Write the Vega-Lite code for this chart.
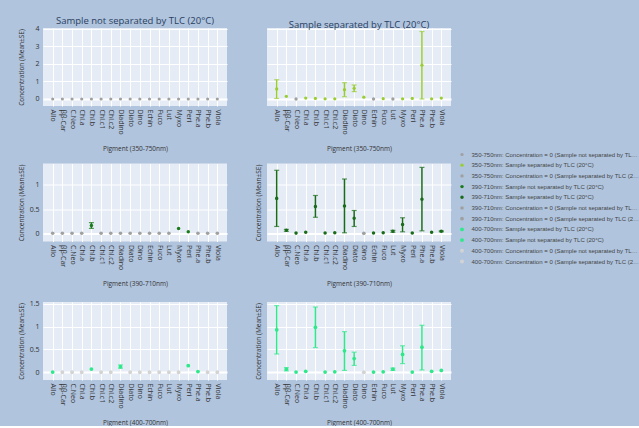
{
"$schema": "https://vega.github.io/schema/vega-lite/v6.json",
"background": "#b0c4de",
"padding": {"left": 17, "top": 16, "right": 0, "bottom": 0},
"spacing": 11.5,
"config": {
 "font": "Open Sans",
 "view": {"fill": "#e5ecf6", "stroke": null},
 "axis": {"domain": false, "ticks": false, "gridColor": "#ffffff", "gridOpacity": 1, "labelColor": "#333333", "labelFontSize": 7, "titleColor": "#333333", "titleFontSize": 6.5, "titleFontWeight": "normal"},
 "axisX": {"labelAngle": 90, "labelPadding": 3, "titleY": 42, "titleBaseline": "middle", "grid": true},
 "axisY": {"labelPadding": 4, "titleX": -22, "titleY": 39, "titleBaseline": "middle", "titleAlign": "center", "titleAngle": -90},
 "title": {"fontSize": 9.5, "color": "#2a3f5f", "fontWeight": "normal", "offset": -1, "font": "Open Sans"}
},
"datasets": {
 "p1": [
  {"p":"Allo","m":0,"g":"350-750nm: Concentration = 0 (Sample not separated by TLC (20°C))"},
  {"p":"ββ-Car","m":0,"g":"350-750nm: Concentration = 0 (Sample not separated by TLC (20°C))"},
  {"p":"C.Neo","m":0,"g":"350-750nm: Concentration = 0 (Sample not separated by TLC (20°C))"},
  {"p":"Chl.a","m":0,"g":"350-750nm: Concentration = 0 (Sample not separated by TLC (20°C))"},
  {"p":"Chl.b","m":0,"g":"350-750nm: Concentration = 0 (Sample not separated by TLC (20°C))"},
  {"p":"Chl.c1","m":0,"g":"350-750nm: Concentration = 0 (Sample not separated by TLC (20°C))"},
  {"p":"Chl.c2","m":0,"g":"350-750nm: Concentration = 0 (Sample not separated by TLC (20°C))"},
  {"p":"Diadino","m":0,"g":"350-750nm: Concentration = 0 (Sample not separated by TLC (20°C))"},
  {"p":"Diato","m":0,"g":"350-750nm: Concentration = 0 (Sample not separated by TLC (20°C))"},
  {"p":"Dino","m":0,"g":"350-750nm: Concentration = 0 (Sample not separated by TLC (20°C))"},
  {"p":"Echin","m":0,"g":"350-750nm: Concentration = 0 (Sample not separated by TLC (20°C))"},
  {"p":"Fuco","m":0,"g":"350-750nm: Concentration = 0 (Sample not separated by TLC (20°C))"},
  {"p":"Lut","m":0,"g":"350-750nm: Concentration = 0 (Sample not separated by TLC (20°C))"},
  {"p":"Myxo","m":0,"g":"350-750nm: Concentration = 0 (Sample not separated by TLC (20°C))"},
  {"p":"Peri","m":0,"g":"350-750nm: Concentration = 0 (Sample not separated by TLC (20°C))"},
  {"p":"Phe.a","m":0,"g":"350-750nm: Concentration = 0 (Sample not separated by TLC (20°C))"},
  {"p":"Phe.b","m":0,"g":"350-750nm: Concentration = 0 (Sample not separated by TLC (20°C))"},
  {"p":"Viola","m":0,"g":"350-750nm: Concentration = 0 (Sample not separated by TLC (20°C))"}
 ],
 "p2": [
  {"p":"Allo","m":0.57,"lo":0.03,"hi":1.1,"g":"350-750nm: Sample separated by TLC (20°C)"},
  {"p":"ββ-Car","m":0.15,"g":"350-750nm: Sample separated by TLC (20°C)"},
  {"p":"C.Neo","m":0,"g":"350-750nm: Concentration = 0 (Sample separated by TLC (20°C))"},
  {"p":"Chl.a","m":0.05,"g":"350-750nm: Sample separated by TLC (20°C)"},
  {"p":"Chl.b","m":0.03,"g":"350-750nm: Sample separated by TLC (20°C)"},
  {"p":"Chl.c1","m":0.01,"g":"350-750nm: Sample separated by TLC (20°C)"},
  {"p":"Chl.c2","m":0.01,"g":"350-750nm: Sample separated by TLC (20°C)"},
  {"p":"Diadino","m":0.53,"lo":0.13,"hi":0.93,"g":"350-750nm: Sample separated by TLC (20°C)"},
  {"p":"Diato","m":0.61,"lo":0.42,"hi":0.8,"g":"350-750nm: Sample separated by TLC (20°C)"},
  {"p":"Dino","m":0.1,"g":"350-750nm: Sample separated by TLC (20°C)"},
  {"p":"Echin","m":0,"g":"350-750nm: Concentration = 0 (Sample separated by TLC (20°C))"},
  {"p":"Fuco","m":0.02,"g":"350-750nm: Sample separated by TLC (20°C)"},
  {"p":"Lut","m":0,"g":"350-750nm: Concentration = 0 (Sample separated by TLC (20°C))"},
  {"p":"Myxo","m":0.01,"g":"350-750nm: Sample separated by TLC (20°C)"},
  {"p":"Peri","m":0.03,"g":"350-750nm: Sample separated by TLC (20°C)"},
  {"p":"Phe.a","m":1.93,"lo":0,"hi":3.85,"g":"350-750nm: Sample separated by TLC (20°C)"},
  {"p":"Phe.b","m":0.01,"g":"350-750nm: Sample separated by TLC (20°C)"},
  {"p":"Viola","m":0.05,"g":"350-750nm: Sample separated by TLC (20°C)"}
 ],
 "p3": [
  {"p":"Allo","m":0,"g":"390-710nm: Concentration = 0 (Sample not separated by TLC (20°C))"},
  {"p":"ββ-Car","m":0,"g":"390-710nm: Concentration = 0 (Sample not separated by TLC (20°C))"},
  {"p":"C.Neo","m":0,"g":"390-710nm: Concentration = 0 (Sample not separated by TLC (20°C))"},
  {"p":"Chl.a","m":0,"g":"390-710nm: Concentration = 0 (Sample not separated by TLC (20°C))"},
  {"p":"Chl.b","m":0.16,"lo":0.1,"hi":0.22,"g":"390-710nm: Sample not separated by TLC (20°C)"},
  {"p":"Chl.c1","m":0,"g":"390-710nm: Concentration = 0 (Sample not separated by TLC (20°C))"},
  {"p":"Chl.c2","m":0,"g":"390-710nm: Concentration = 0 (Sample not separated by TLC (20°C))"},
  {"p":"Diadino","m":0,"g":"390-710nm: Concentration = 0 (Sample not separated by TLC (20°C))"},
  {"p":"Diato","m":0,"g":"390-710nm: Concentration = 0 (Sample not separated by TLC (20°C))"},
  {"p":"Dino","m":0,"g":"390-710nm: Concentration = 0 (Sample not separated by TLC (20°C))"},
  {"p":"Echin","m":0,"g":"390-710nm: Concentration = 0 (Sample not separated by TLC (20°C))"},
  {"p":"Fuco","m":0,"g":"390-710nm: Concentration = 0 (Sample not separated by TLC (20°C))"},
  {"p":"Lut","m":0,"g":"390-710nm: Concentration = 0 (Sample not separated by TLC (20°C))"},
  {"p":"Myxo","m":0.1,"g":"390-710nm: Sample not separated by TLC (20°C)"},
  {"p":"Peri","m":0.03,"g":"390-710nm: Sample not separated by TLC (20°C)"},
  {"p":"Phe.a","m":0,"g":"390-710nm: Concentration = 0 (Sample not separated by TLC (20°C))"},
  {"p":"Phe.b","m":0,"g":"390-710nm: Concentration = 0 (Sample not separated by TLC (20°C))"},
  {"p":"Viola","m":0,"g":"390-710nm: Concentration = 0 (Sample not separated by TLC (20°C))"}
 ],
 "p4": [
  {"p":"Allo","m":0.72,"lo":0.14,"hi":1.3,"g":"390-710nm: Sample separated by TLC (20°C)"},
  {"p":"ββ-Car","m":0.06,"lo":0.04,"hi":0.08,"g":"390-710nm: Sample separated by TLC (20°C)"},
  {"p":"C.Neo","m":0.003,"g":"390-710nm: Sample separated by TLC (20°C)"},
  {"p":"Chl.a","m":0.02,"g":"390-710nm: Sample separated by TLC (20°C)"},
  {"p":"Chl.b","m":0.55,"lo":0.33,"hi":0.78,"g":"390-710nm: Sample separated by TLC (20°C)"},
  {"p":"Chl.c1","m":0.005,"g":"390-710nm: Sample separated by TLC (20°C)"},
  {"p":"Chl.c2","m":0.01,"g":"390-710nm: Sample separated by TLC (20°C)"},
  {"p":"Diadino","m":0.565,"lo":0.01,"hi":1.12,"g":"390-710nm: Sample separated by TLC (20°C)"},
  {"p":"Diato","m":0.31,"lo":0.14,"hi":0.47,"g":"390-710nm: Sample separated by TLC (20°C)"},
  {"p":"Dino","m":0,"g":"390-710nm: Concentration = 0 (Sample separated by TLC (20°C))"},
  {"p":"Echin","m":0.005,"g":"390-710nm: Sample separated by TLC (20°C)"},
  {"p":"Fuco","m":0.01,"g":"390-710nm: Sample separated by TLC (20°C)"},
  {"p":"Lut","m":0.04,"lo":0.02,"hi":0.06,"g":"390-710nm: Sample separated by TLC (20°C)"},
  {"p":"Myxo","m":0.18,"lo":0.03,"hi":0.32,"g":"390-710nm: Sample separated by TLC (20°C)"},
  {"p":"Peri","m":0.005,"g":"390-710nm: Sample separated by TLC (20°C)"},
  {"p":"Phe.a","m":0.7,"lo":0.05,"hi":1.36,"g":"390-710nm: Sample separated by TLC (20°C)"},
  {"p":"Phe.b","m":0.02,"g":"390-710nm: Sample separated by TLC (20°C)"},
  {"p":"Viola","m":0.04,"lo":0.03,"hi":0.05,"g":"390-710nm: Sample separated by TLC (20°C)"}
 ],
 "p5": [
  {"p":"Allo","m":0.003,"g":"400-700nm: Sample not separated by TLC (20°C)"},
  {"p":"ββ-Car","m":0,"g":"400-700nm: Concentration = 0 (Sample not separated by TLC (20°C))"},
  {"p":"C.Neo","m":0,"g":"400-700nm: Concentration = 0 (Sample not separated by TLC (20°C))"},
  {"p":"Chl.a","m":0,"g":"400-700nm: Concentration = 0 (Sample not separated by TLC (20°C))"},
  {"p":"Chl.b","m":0.07,"g":"400-700nm: Sample not separated by TLC (20°C)"},
  {"p":"Chl.c1","m":0,"g":"400-700nm: Concentration = 0 (Sample not separated by TLC (20°C))"},
  {"p":"Chl.c2","m":0,"g":"400-700nm: Concentration = 0 (Sample not separated by TLC (20°C))"},
  {"p":"Diadino","m":0.12,"lo":0.09,"hi":0.16,"g":"400-700nm: Sample not separated by TLC (20°C)"},
  {"p":"Diato","m":0,"g":"400-700nm: Concentration = 0 (Sample not separated by TLC (20°C))"},
  {"p":"Dino","m":0,"g":"400-700nm: Concentration = 0 (Sample not separated by TLC (20°C))"},
  {"p":"Echin","m":0,"g":"400-700nm: Concentration = 0 (Sample not separated by TLC (20°C))"},
  {"p":"Fuco","m":0,"g":"400-700nm: Concentration = 0 (Sample not separated by TLC (20°C))"},
  {"p":"Lut","m":0,"g":"400-700nm: Concentration = 0 (Sample not separated by TLC (20°C))"},
  {"p":"Myxo","m":0,"g":"400-700nm: Concentration = 0 (Sample not separated by TLC (20°C))"},
  {"p":"Peri","m":0.145,"g":"400-700nm: Sample not separated by TLC (20°C)"},
  {"p":"Phe.a","m":0.015,"g":"400-700nm: Sample not separated by TLC (20°C)"},
  {"p":"Phe.b","m":0,"g":"400-700nm: Concentration = 0 (Sample not separated by TLC (20°C))"},
  {"p":"Viola","m":0,"g":"400-700nm: Concentration = 0 (Sample not separated by TLC (20°C))"}
 ],
 "p6": [
  {"p":"Allo","m":0.93,"lo":0.4,"hi":1.46,"g":"400-700nm: Sample separated by TLC (20°C)"},
  {"p":"ββ-Car","m":0.066,"lo":0.03,"hi":0.1,"g":"400-700nm: Sample separated by TLC (20°C)"},
  {"p":"C.Neo","m":0.003,"g":"400-700nm: Sample separated by TLC (20°C)"},
  {"p":"Chl.a","m":0.02,"g":"400-700nm: Sample separated by TLC (20°C)"},
  {"p":"Chl.b","m":0.985,"lo":0.54,"hi":1.43,"g":"400-700nm: Sample separated by TLC (20°C)"},
  {"p":"Chl.c1","m":0.003,"g":"400-700nm: Sample separated by TLC (20°C)"},
  {"p":"Chl.c2","m":0.01,"g":"400-700nm: Sample separated by TLC (20°C)"},
  {"p":"Diadino","m":0.47,"lo":0.04,"hi":0.89,"g":"400-700nm: Sample separated by TLC (20°C)"},
  {"p":"Diato","m":0.3,"lo":0.15,"hi":0.44,"g":"400-700nm: Sample separated by TLC (20°C)"},
  {"p":"Dino","m":0,"g":"400-700nm: Concentration = 0 (Sample separated by TLC (20°C))"},
  {"p":"Echin","m":0.003,"g":"400-700nm: Sample separated by TLC (20°C)"},
  {"p":"Fuco","m":0.01,"g":"400-700nm: Sample separated by TLC (20°C)"},
  {"p":"Lut","m":0.066,"lo":0.04,"hi":0.09,"g":"400-700nm: Sample separated by TLC (20°C)"},
  {"p":"Myxo","m":0.39,"lo":0.19,"hi":0.58,"g":"400-700nm: Sample separated by TLC (20°C)"},
  {"p":"Peri","m":0.003,"g":"400-700nm: Sample separated by TLC (20°C)"},
  {"p":"Phe.a","m":0.55,"lo":0.05,"hi":1.03,"g":"400-700nm: Sample separated by TLC (20°C)"},
  {"p":"Phe.b","m":0.02,"g":"400-700nm: Sample separated by TLC (20°C)"},
  {"p":"Viola","m":0.04,"g":"400-700nm: Sample separated by TLC (20°C)"}
 ]
},
"vconcat": [
 {"hconcat": [
  {"width": 184, "height": 78, "data": {"name": "p1"},
   "title": {"text": "Sample not separated by TLC (20°C)"},
   "layer": [
    {"mark": {"type": "point", "filled": true, "opacity": 1},
     "encoding": {
      "x": {"field": "p", "type": "nominal", "scale": {"type": "point", "padding": 1.45, "domain": ["Allo","ββ-Car","C.Neo","Chl.a","Chl.b","Chl.c1","Chl.c2","Diadino","Diato","Dino","Echin","Fuco","Lut","Myxo","Peri","Phe.a","Phe.b","Viola"]}, "axis": {"title": "Pigment (350-750nm)"}},
      "y": {"field": "m", "type": "quantitative", "scale": {"domain": [-0.4, 4.05], "nice": false, "zero": false}, "axis": {"title": "Concentration (Mean±SE)", "values": [0,1,2,3,4], "format": "~g", "gridWidth": {"condition": {"test": "datum.value === 0", "value": 2}, "value": 1}}},
      "color": {"field": "g", "type": "nominal", "scale": {"domain": ["350-750nm: Concentration = 0 (Sample not separated by TLC (20°C))","350-750nm: Sample separated by TLC (20°C)","350-750nm: Concentration = 0 (Sample separated by TLC (20°C))","390-710nm: Sample not separated by TLC (20°C)","390-710nm: Sample separated by TLC (20°C)","390-710nm: Concentration = 0 (Sample not separated by TLC (20°C))","390-710nm: Concentration = 0 (Sample separated by TLC (20°C))","400-700nm: Sample separated by TLC (20°C)","400-700nm: Sample not separated by TLC (20°C)","400-700nm: Concentration = 0 (Sample not separated by TLC (20°C))","400-700nm: Concentration = 0 (Sample separated by TLC (20°C))"], "range": ["#a0a0a0","#9acd32","#a0a0a0","#1b7a1b","#196b19","#a0a0a0","#a0a0a0","#2ee88a","#2ee88a","#d3d3d3","#d3d3d3"]},
        "legend": {"orient": "none", "legendX": 416, "legendY": 123.5, "title": null, "labelFontSize": 6, "labelLimit": 168, "labelOffset": 6.5, "rowPadding": 4.7, "symbolType": "circle", "labelFont": "Liberation Sans", "labelColor": "#444444", "symbolStrokeWidth": 0}},
      "size": {"field": "g", "type": "nominal", "scale": {"domain": ["350-750nm: Concentration = 0 (Sample not separated by TLC (20°C))","350-750nm: Sample separated by TLC (20°C)","350-750nm: Concentration = 0 (Sample separated by TLC (20°C))","390-710nm: Sample not separated by TLC (20°C)","390-710nm: Sample separated by TLC (20°C)","390-710nm: Concentration = 0 (Sample not separated by TLC (20°C))","390-710nm: Concentration = 0 (Sample separated by TLC (20°C))","400-700nm: Sample separated by TLC (20°C)","400-700nm: Sample not separated by TLC (20°C)","400-700nm: Concentration = 0 (Sample not separated by TLC (20°C))","400-700nm: Concentration = 0 (Sample separated by TLC (20°C))"], "range": [10,16,40,16,16,10,40,16,16,10,40]},
        "legend": {"orient": "none", "legendX": 416, "legendY": 123.5, "title": null, "labelFontSize": 6, "labelLimit": 168, "labelOffset": 6.5, "rowPadding": 4.7, "symbolType": "circle", "labelFont": "Liberation Sans", "labelColor": "#444444", "symbolStrokeWidth": 0}}
     }}
   ]},
  {"width": 184, "height": 78, "data": {"name": "p2"},
   "title": {"text": "Sample separated by TLC (20°C)"},
   "layer": [
    {"transform": [{"filter": "isValid(datum.lo)"}],
     "mark": {"type": "rule", "color": "#9acd32", "strokeWidth": 1.5},
     "encoding": {
      "x": {"field": "p", "type": "nominal", "scale": {"type": "point", "padding": 1.45, "domain": ["Allo","ββ-Car","C.Neo","Chl.a","Chl.b","Chl.c1","Chl.c2","Diadino","Diato","Dino","Echin","Fuco","Lut","Myxo","Peri","Phe.a","Phe.b","Viola"]}, "axis": {"title": "Pigment (350-750nm)"}},
      "y": {"field": "lo", "type": "quantitative", "scale": {"domain": [-0.4, 4.05], "nice": false, "zero": false}, "axis": {"title": null, "labels": false, "values": [0,1,2,3,4], "gridWidth": {"condition": {"test": "datum.value === 0", "value": 2}, "value": 1}}},
      "y2": {"field": "hi"}}},
    {"transform": [{"filter": "isValid(datum.lo)"}],
     "mark": {"type": "tick", "color": "#9acd32", "size": 5, "thickness": 1.2},
     "encoding": {
      "x": {"field": "p", "type": "nominal", "scale": {"type": "point", "padding": 1.45, "domain": ["Allo","ββ-Car","C.Neo","Chl.a","Chl.b","Chl.c1","Chl.c2","Diadino","Diato","Dino","Echin","Fuco","Lut","Myxo","Peri","Phe.a","Phe.b","Viola"]}, "axis": {"title": "Pigment (350-750nm)"}},
      "y": {"field": "lo", "type": "quantitative", "scale": {"domain": [-0.4, 4.05], "nice": false, "zero": false}, "axis": {"title": null, "labels": false, "values": [0,1,2,3,4], "gridWidth": {"condition": {"test": "datum.value === 0", "value": 2}, "value": 1}}}}},
    {"transform": [{"filter": "isValid(datum.lo)"}],
     "mark": {"type": "tick", "color": "#9acd32", "size": 5, "thickness": 1.2},
     "encoding": {
      "x": {"field": "p", "type": "nominal", "scale": {"type": "point", "padding": 1.45, "domain": ["Allo","ββ-Car","C.Neo","Chl.a","Chl.b","Chl.c1","Chl.c2","Diadino","Diato","Dino","Echin","Fuco","Lut","Myxo","Peri","Phe.a","Phe.b","Viola"]}, "axis": {"title": "Pigment (350-750nm)"}},
      "y": {"field": "hi", "type": "quantitative", "scale": {"domain": [-0.4, 4.05], "nice": false, "zero": false}, "axis": {"title": null, "labels": false, "values": [0,1,2,3,4], "gridWidth": {"condition": {"test": "datum.value === 0", "value": 2}, "value": 1}}}}},
    {"mark": {"type": "point", "filled": true, "opacity": 1},
     "encoding": {
      "x": {"field": "p", "type": "nominal", "scale": {"type": "point", "padding": 1.45, "domain": ["Allo","ββ-Car","C.Neo","Chl.a","Chl.b","Chl.c1","Chl.c2","Diadino","Diato","Dino","Echin","Fuco","Lut","Myxo","Peri","Phe.a","Phe.b","Viola"]}, "axis": {"title": "Pigment (350-750nm)"}},
      "y": {"field": "m", "type": "quantitative", "scale": {"domain": [-0.4, 4.05], "nice": false, "zero": false}, "axis": {"title": null, "labels": false, "values": [0,1,2,3,4], "gridWidth": {"condition": {"test": "datum.value === 0", "value": 2}, "value": 1}}},
      "color": {"field": "g", "type": "nominal"},
      "size": {"field": "g", "type": "nominal"}
     }}
   ]}
 ], "spacing": 40, "bounds": "flush"},
 {"hconcat": [
  {"width": 184, "height": 78, "data": {"name": "p3"},
   "layer": [
    {"transform": [{"filter": "isValid(datum.lo)"}],
     "mark": {"type": "rule", "color": "#1b7a1b", "strokeWidth": 1.5},
     "encoding": {
      "x": {"field": "p", "type": "nominal", "scale": {"type": "point", "padding": 1.45, "domain": ["Allo","ββ-Car","C.Neo","Chl.a","Chl.b","Chl.c1","Chl.c2","Diadino","Diato","Dino","Echin","Fuco","Lut","Myxo","Peri","Phe.a","Phe.b","Viola"]}, "axis": {"title": "Pigment (390-710nm)"}},
      "y": {"field": "lo", "type": "quantitative", "scale": {"domain": [-0.17, 1.44], "nice": false, "zero": false}, "axis": {"title": "Concentration (Mean±SE)", "values": [0,0.5,1], "format": "~g", "gridWidth": {"condition": {"test": "datum.value === 0", "value": 2}, "value": 1}}},
      "y2": {"field": "hi"}}},
    {"transform": [{"filter": "isValid(datum.lo)"}],
     "mark": {"type": "tick", "color": "#1b7a1b", "size": 5, "thickness": 1.2},
     "encoding": {
      "x": {"field": "p", "type": "nominal", "scale": {"type": "point", "padding": 1.45, "domain": ["Allo","ββ-Car","C.Neo","Chl.a","Chl.b","Chl.c1","Chl.c2","Diadino","Diato","Dino","Echin","Fuco","Lut","Myxo","Peri","Phe.a","Phe.b","Viola"]}, "axis": {"title": "Pigment (390-710nm)"}},
      "y": {"field": "lo", "type": "quantitative", "scale": {"domain": [-0.17, 1.44], "nice": false, "zero": false}, "axis": {"title": "Concentration (Mean±SE)", "values": [0,0.5,1], "format": "~g", "gridWidth": {"condition": {"test": "datum.value === 0", "value": 2}, "value": 1}}}}},
    {"transform": [{"filter": "isValid(datum.lo)"}],
     "mark": {"type": "tick", "color": "#1b7a1b", "size": 5, "thickness": 1.2},
     "encoding": {
      "x": {"field": "p", "type": "nominal", "scale": {"type": "point", "padding": 1.45, "domain": ["Allo","ββ-Car","C.Neo","Chl.a","Chl.b","Chl.c1","Chl.c2","Diadino","Diato","Dino","Echin","Fuco","Lut","Myxo","Peri","Phe.a","Phe.b","Viola"]}, "axis": {"title": "Pigment (390-710nm)"}},
      "y": {"field": "hi", "type": "quantitative", "scale": {"domain": [-0.17, 1.44], "nice": false, "zero": false}, "axis": {"title": "Concentration (Mean±SE)", "values": [0,0.5,1], "format": "~g", "gridWidth": {"condition": {"test": "datum.value === 0", "value": 2}, "value": 1}}}}},
    {"mark": {"type": "point", "filled": true, "opacity": 1},
     "encoding": {
      "x": {"field": "p", "type": "nominal", "scale": {"type": "point", "padding": 1.45, "domain": ["Allo","ββ-Car","C.Neo","Chl.a","Chl.b","Chl.c1","Chl.c2","Diadino","Diato","Dino","Echin","Fuco","Lut","Myxo","Peri","Phe.a","Phe.b","Viola"]}, "axis": {"title": "Pigment (390-710nm)"}},
      "y": {"field": "m", "type": "quantitative", "scale": {"domain": [-0.17, 1.44], "nice": false, "zero": false}, "axis": {"title": "Concentration (Mean±SE)", "values": [0,0.5,1], "format": "~g", "gridWidth": {"condition": {"test": "datum.value === 0", "value": 2}, "value": 1}}},
      "color": {"field": "g", "type": "nominal"},
      "size": {"field": "g", "type": "nominal"}
     }}
   ]},
  {"width": 184, "height": 78, "data": {"name": "p4"},
   "layer": [
    {"transform": [{"filter": "isValid(datum.lo)"}],
     "mark": {"type": "rule", "color": "#196b19", "strokeWidth": 1.5},
     "encoding": {
      "x": {"field": "p", "type": "nominal", "scale": {"type": "point", "padding": 1.45, "domain": ["Allo","ββ-Car","C.Neo","Chl.a","Chl.b","Chl.c1","Chl.c2","Diadino","Diato","Dino","Echin","Fuco","Lut","Myxo","Peri","Phe.a","Phe.b","Viola"]}, "axis": {"title": "Pigment (390-710nm)"}},
      "y": {"field": "lo", "type": "quantitative", "scale": {"domain": [-0.17, 1.44], "nice": false, "zero": false}, "axis": {"title": "Concentration (Mean±SE)", "titleX": -9, "labels": false, "values": [0,0.5,1], "gridWidth": {"condition": {"test": "datum.value === 0", "value": 2}, "value": 1}}},
      "y2": {"field": "hi"}}},
    {"transform": [{"filter": "isValid(datum.lo)"}],
     "mark": {"type": "tick", "color": "#196b19", "size": 5, "thickness": 1.2},
     "encoding": {
      "x": {"field": "p", "type": "nominal", "scale": {"type": "point", "padding": 1.45, "domain": ["Allo","ββ-Car","C.Neo","Chl.a","Chl.b","Chl.c1","Chl.c2","Diadino","Diato","Dino","Echin","Fuco","Lut","Myxo","Peri","Phe.a","Phe.b","Viola"]}, "axis": {"title": "Pigment (390-710nm)"}},
      "y": {"field": "lo", "type": "quantitative", "scale": {"domain": [-0.17, 1.44], "nice": false, "zero": false}, "axis": {"title": "Concentration (Mean±SE)", "titleX": -9, "labels": false, "values": [0,0.5,1], "gridWidth": {"condition": {"test": "datum.value === 0", "value": 2}, "value": 1}}}}},
    {"transform": [{"filter": "isValid(datum.lo)"}],
     "mark": {"type": "tick", "color": "#196b19", "size": 5, "thickness": 1.2},
     "encoding": {
      "x": {"field": "p", "type": "nominal", "scale": {"type": "point", "padding": 1.45, "domain": ["Allo","ββ-Car","C.Neo","Chl.a","Chl.b","Chl.c1","Chl.c2","Diadino","Diato","Dino","Echin","Fuco","Lut","Myxo","Peri","Phe.a","Phe.b","Viola"]}, "axis": {"title": "Pigment (390-710nm)"}},
      "y": {"field": "hi", "type": "quantitative", "scale": {"domain": [-0.17, 1.44], "nice": false, "zero": false}, "axis": {"title": "Concentration (Mean±SE)", "titleX": -9, "labels": false, "values": [0,0.5,1], "gridWidth": {"condition": {"test": "datum.value === 0", "value": 2}, "value": 1}}}}},
    {"mark": {"type": "point", "filled": true, "opacity": 1},
     "encoding": {
      "x": {"field": "p", "type": "nominal", "scale": {"type": "point", "padding": 1.45, "domain": ["Allo","ββ-Car","C.Neo","Chl.a","Chl.b","Chl.c1","Chl.c2","Diadino","Diato","Dino","Echin","Fuco","Lut","Myxo","Peri","Phe.a","Phe.b","Viola"]}, "axis": {"title": "Pigment (390-710nm)"}},
      "y": {"field": "m", "type": "quantitative", "scale": {"domain": [-0.17, 1.44], "nice": false, "zero": false}, "axis": {"title": "Concentration (Mean±SE)", "titleX": -9, "labels": false, "values": [0,0.5,1], "gridWidth": {"condition": {"test": "datum.value === 0", "value": 2}, "value": 1}}},
      "color": {"field": "g", "type": "nominal"},
      "size": {"field": "g", "type": "nominal"}
     }}
   ]}
 ], "spacing": 40, "bounds": "flush"},
 {"hconcat": [
  {"width": 184, "height": 78, "data": {"name": "p5"},
   "layer": [
    {"transform": [{"filter": "isValid(datum.lo)"}],
     "mark": {"type": "rule", "color": "#2ee88a", "strokeWidth": 1.5},
     "encoding": {
      "x": {"field": "p", "type": "nominal", "scale": {"type": "point", "padding": 1.45, "domain": ["Allo","ββ-Car","C.Neo","Chl.a","Chl.b","Chl.c1","Chl.c2","Diadino","Diato","Dino","Echin","Fuco","Lut","Myxo","Peri","Phe.a","Phe.b","Viola"]}, "axis": {"title": "Pigment (400-700nm)"}},
      "y": {"field": "lo", "type": "quantitative", "scale": {"domain": [-0.17, 1.54], "nice": false, "zero": false}, "axis": {"title": "Concentration (Mean±SE)", "values": [0,0.5,1,1.5], "format": "~g", "gridWidth": {"condition": {"test": "datum.value === 0", "value": 2}, "value": 1}}},
      "y2": {"field": "hi"}}},
    {"transform": [{"filter": "isValid(datum.lo)"}],
     "mark": {"type": "tick", "color": "#2ee88a", "size": 5, "thickness": 1.2},
     "encoding": {
      "x": {"field": "p", "type": "nominal", "scale": {"type": "point", "padding": 1.45, "domain": ["Allo","ββ-Car","C.Neo","Chl.a","Chl.b","Chl.c1","Chl.c2","Diadino","Diato","Dino","Echin","Fuco","Lut","Myxo","Peri","Phe.a","Phe.b","Viola"]}, "axis": {"title": "Pigment (400-700nm)"}},
      "y": {"field": "lo", "type": "quantitative", "scale": {"domain": [-0.17, 1.54], "nice": false, "zero": false}, "axis": {"title": "Concentration (Mean±SE)", "values": [0,0.5,1,1.5], "format": "~g", "gridWidth": {"condition": {"test": "datum.value === 0", "value": 2}, "value": 1}}}}},
    {"transform": [{"filter": "isValid(datum.lo)"}],
     "mark": {"type": "tick", "color": "#2ee88a", "size": 5, "thickness": 1.2},
     "encoding": {
      "x": {"field": "p", "type": "nominal", "scale": {"type": "point", "padding": 1.45, "domain": ["Allo","ββ-Car","C.Neo","Chl.a","Chl.b","Chl.c1","Chl.c2","Diadino","Diato","Dino","Echin","Fuco","Lut","Myxo","Peri","Phe.a","Phe.b","Viola"]}, "axis": {"title": "Pigment (400-700nm)"}},
      "y": {"field": "hi", "type": "quantitative", "scale": {"domain": [-0.17, 1.54], "nice": false, "zero": false}, "axis": {"title": "Concentration (Mean±SE)", "values": [0,0.5,1,1.5], "format": "~g", "gridWidth": {"condition": {"test": "datum.value === 0", "value": 2}, "value": 1}}}}},
    {"mark": {"type": "point", "filled": true, "opacity": 1},
     "encoding": {
      "x": {"field": "p", "type": "nominal", "scale": {"type": "point", "padding": 1.45, "domain": ["Allo","ββ-Car","C.Neo","Chl.a","Chl.b","Chl.c1","Chl.c2","Diadino","Diato","Dino","Echin","Fuco","Lut","Myxo","Peri","Phe.a","Phe.b","Viola"]}, "axis": {"title": "Pigment (400-700nm)"}},
      "y": {"field": "m", "type": "quantitative", "scale": {"domain": [-0.17, 1.54], "nice": false, "zero": false}, "axis": {"title": "Concentration (Mean±SE)", "values": [0,0.5,1,1.5], "format": "~g", "gridWidth": {"condition": {"test": "datum.value === 0", "value": 2}, "value": 1}}},
      "color": {"field": "g", "type": "nominal"},
      "size": {"field": "g", "type": "nominal"}
     }}
   ]},
  {"width": 184, "height": 78, "data": {"name": "p6"},
   "layer": [
    {"transform": [{"filter": "isValid(datum.lo)"}],
     "mark": {"type": "rule", "color": "#2ee88a", "strokeWidth": 1.5},
     "encoding": {
      "x": {"field": "p", "type": "nominal", "scale": {"type": "point", "padding": 1.45, "domain": ["Allo","ββ-Car","C.Neo","Chl.a","Chl.b","Chl.c1","Chl.c2","Diadino","Diato","Dino","Echin","Fuco","Lut","Myxo","Peri","Phe.a","Phe.b","Viola"]}, "axis": {"title": "Pigment (400-700nm)"}},
      "y": {"field": "lo", "type": "quantitative", "scale": {"domain": [-0.17, 1.54], "nice": false, "zero": false}, "axis": {"title": "Concentration (Mean±SE)", "titleX": -9, "labels": false, "values": [0,0.5,1,1.5], "gridWidth": {"condition": {"test": "datum.value === 0", "value": 2}, "value": 1}}},
      "y2": {"field": "hi"}}},
    {"transform": [{"filter": "isValid(datum.lo)"}],
     "mark": {"type": "tick", "color": "#2ee88a", "size": 5, "thickness": 1.2},
     "encoding": {
      "x": {"field": "p", "type": "nominal", "scale": {"type": "point", "padding": 1.45, "domain": ["Allo","ββ-Car","C.Neo","Chl.a","Chl.b","Chl.c1","Chl.c2","Diadino","Diato","Dino","Echin","Fuco","Lut","Myxo","Peri","Phe.a","Phe.b","Viola"]}, "axis": {"title": "Pigment (400-700nm)"}},
      "y": {"field": "lo", "type": "quantitative", "scale": {"domain": [-0.17, 1.54], "nice": false, "zero": false}, "axis": {"title": "Concentration (Mean±SE)", "titleX": -9, "labels": false, "values": [0,0.5,1,1.5], "gridWidth": {"condition": {"test": "datum.value === 0", "value": 2}, "value": 1}}}}},
    {"transform": [{"filter": "isValid(datum.lo)"}],
     "mark": {"type": "tick", "color": "#2ee88a", "size": 5, "thickness": 1.2},
     "encoding": {
      "x": {"field": "p", "type": "nominal", "scale": {"type": "point", "padding": 1.45, "domain": ["Allo","ββ-Car","C.Neo","Chl.a","Chl.b","Chl.c1","Chl.c2","Diadino","Diato","Dino","Echin","Fuco","Lut","Myxo","Peri","Phe.a","Phe.b","Viola"]}, "axis": {"title": "Pigment (400-700nm)"}},
      "y": {"field": "hi", "type": "quantitative", "scale": {"domain": [-0.17, 1.54], "nice": false, "zero": false}, "axis": {"title": "Concentration (Mean±SE)", "titleX": -9, "labels": false, "values": [0,0.5,1,1.5], "gridWidth": {"condition": {"test": "datum.value === 0", "value": 2}, "value": 1}}}}},
    {"mark": {"type": "point", "filled": true, "opacity": 1},
     "encoding": {
      "x": {"field": "p", "type": "nominal", "scale": {"type": "point", "padding": 1.45, "domain": ["Allo","ββ-Car","C.Neo","Chl.a","Chl.b","Chl.c1","Chl.c2","Diadino","Diato","Dino","Echin","Fuco","Lut","Myxo","Peri","Phe.a","Phe.b","Viola"]}, "axis": {"title": "Pigment (400-700nm)"}},
      "y": {"field": "m", "type": "quantitative", "scale": {"domain": [-0.17, 1.54], "nice": false, "zero": false}, "axis": {"title": "Concentration (Mean±SE)", "titleX": -9, "labels": false, "values": [0,0.5,1,1.5], "gridWidth": {"condition": {"test": "datum.value === 0", "value": 2}, "value": 1}}},
      "color": {"field": "g", "type": "nominal"},
      "size": {"field": "g", "type": "nominal"}
     }}
   ]}
 ], "spacing": 40, "bounds": "flush"}
]
}
